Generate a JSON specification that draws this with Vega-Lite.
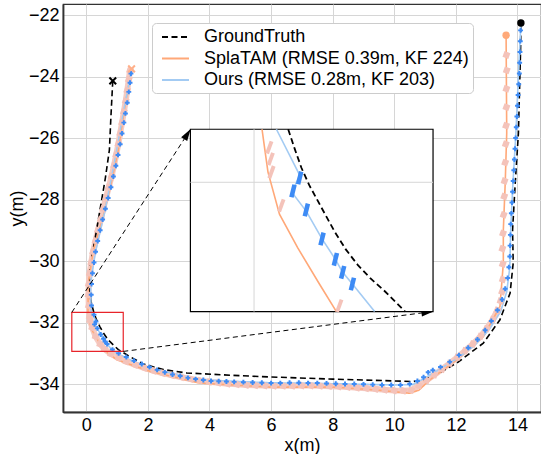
{
  "$schema": "https://vega.github.io/schema/vega-lite/v6.json",
  "width": 478,
  "height": 408,
  "autosize": {"type": "none"},
  "padding": {"left": 63, "top": 4, "right": 0, "bottom": 42},
  "config": {
    "font": "Liberation Sans",
    "view": {"stroke": "#333333", "strokeWidth": 1.2},
    "axis": {"grid": true, "gridColor": "#d6d6d6", "gridWidth": 1, "domainColor": "#333333", "domainWidth": 1.8, "tickSize": 0, "ticks": false, "labelFontSize": 18, "labelColor": "#000000", "titleFontSize": 18, "titleFontWeight": "normal", "titleColor": "#000000", "labelPadding": 4, "titlePadding": 2, "labelFont": "Liberation Sans", "titleFont": "Liberation Sans"},
    "legend": {"orient": "none", "legendX": 89, "legendY": 19, "labelFontSize": 18, "labelFont": "Liberation Sans", "labelColor": "#000000", "symbolType": "M-1.5,0L1.5,0", "symbolSize": 324, "symbolStrokeWidth": 2, "labelOffset": 18.5, "rowPadding": 2.5, "padding": 4, "symbolOffset": 9.5, "strokeColor": "#cccccc", "fillColor": "#ffffff", "cornerRadius": 4, "labelLimit": 400}
  },
  "datasets": {
    "traj": [
      {"s": "GT", "i": 0, "x": 0.86, "y": -24.14}, {"s": "GT", "i": 1, "x": 0.8, "y": -25.3}, {"s": "GT", "i": 2, "x": 0.75, "y": -26.39}, {"s": "GT", "i": 3, "x": 0.62, "y": -27.3}, {"s": "GT", "i": 4, "x": 0.5, "y": -28.01}, {"s": "GT", "i": 5, "x": 0.28, "y": -29.31}, {"s": "GT", "i": 6, "x": 0.12, "y": -30.18}, {"s": "GT", "i": 7, "x": 0.1, "y": -30.8}, {"s": "GT", "i": 8, "x": 0.15, "y": -31.3}, {"s": "GT", "i": 9, "x": 0.235, "y": -31.635}, {"s": "GT", "i": 10, "x": 0.326, "y": -31.9}, {"s": "GT", "i": 11, "x": 0.44, "y": -32.13}, {"s": "GT", "i": 12, "x": 0.555, "y": -32.34}, {"s": "GT", "i": 13, "x": 0.715, "y": -32.57}, {"s": "GT", "i": 14, "x": 0.9, "y": -32.75}, {"s": "GT", "i": 15, "x": 1.04, "y": -32.88}, {"s": "GT", "i": 16, "x": 1.4, "y": -33.1}, {"s": "GT", "i": 17, "x": 1.85, "y": -33.35}, {"s": "GT", "i": 18, "x": 2.5, "y": -33.53}, {"s": "GT", "i": 19, "x": 3.26, "y": -33.64}, {"s": "GT", "i": 20, "x": 4.77, "y": -33.72}, {"s": "GT", "i": 21, "x": 5.96, "y": -33.77}, {"s": "GT", "i": 22, "x": 8.0, "y": -33.84}, {"s": "GT", "i": 23, "x": 10.0, "y": -33.9}, {"s": "GT", "i": 24, "x": 10.6, "y": -33.92}, {"s": "GT", "i": 25, "x": 10.9, "y": -33.88}, {"s": "GT", "i": 26, "x": 11.27, "y": -33.74}, {"s": "GT", "i": 27, "x": 12.03, "y": -33.32}, {"s": "GT", "i": 28, "x": 12.89, "y": -32.67}, {"s": "GT", "i": 29, "x": 13.43, "y": -31.91}, {"s": "GT", "i": 30, "x": 13.76, "y": -31.04}, {"s": "GT", "i": 31, "x": 13.86, "y": -30.07}, {"s": "GT", "i": 32, "x": 13.84, "y": -28.99}, {"s": "GT", "i": 33, "x": 13.92, "y": -27.58}, {"s": "GT", "i": 34, "x": 14.03, "y": -25.84}, {"s": "GT", "i": 35, "x": 14.1, "y": -23.13}, {"s": "GT", "i": 36, "x": 14.11, "y": -22.26},
      {"s": "SplaTAM", "i": 0, "x": 1.47, "y": -23.75}, {"s": "SplaTAM", "i": 1, "x": 1.25, "y": -25.0}, {"s": "SplaTAM", "i": 2, "x": 1.04, "y": -26.39}, {"s": "SplaTAM", "i": 3, "x": 0.8, "y": -27.5}, {"s": "SplaTAM", "i": 4, "x": 0.55, "y": -28.55}, {"s": "SplaTAM", "i": 5, "x": 0.23, "y": -29.64}, {"s": "SplaTAM", "i": 6, "x": 0.065, "y": -30.72}, {"s": "SplaTAM", "i": 7, "x": 0.055, "y": -31.635}, {"s": "SplaTAM", "i": 8, "x": 0.096, "y": -31.93}, {"s": "SplaTAM", "i": 9, "x": 0.175, "y": -32.22}, {"s": "SplaTAM", "i": 10, "x": 0.3, "y": -32.45}, {"s": "SplaTAM", "i": 11, "x": 0.45, "y": -32.7}, {"s": "SplaTAM", "i": 12, "x": 0.567, "y": -32.89}, {"s": "SplaTAM", "i": 13, "x": 0.99, "y": -33.21}, {"s": "SplaTAM", "i": 14, "x": 2.07, "y": -33.59}, {"s": "SplaTAM", "i": 15, "x": 3.69, "y": -33.97}, {"s": "SplaTAM", "i": 16, "x": 5.96, "y": -34.1}, {"s": "SplaTAM", "i": 17, "x": 8.0, "y": -34.1}, {"s": "SplaTAM", "i": 18, "x": 9.5, "y": -34.2}, {"s": "SplaTAM", "i": 19, "x": 10.5, "y": -34.3}, {"s": "SplaTAM", "i": 20, "x": 10.8, "y": -34.2}, {"s": "SplaTAM", "i": 21, "x": 11.16, "y": -33.86}, {"s": "SplaTAM", "i": 22, "x": 12.03, "y": -33.21}, {"s": "SplaTAM", "i": 23, "x": 12.89, "y": -32.46}, {"s": "SplaTAM", "i": 24, "x": 13.43, "y": -31.48}, {"s": "SplaTAM", "i": 25, "x": 13.54, "y": -30.07}, {"s": "SplaTAM", "i": 26, "x": 13.54, "y": -28.99}, {"s": "SplaTAM", "i": 27, "x": 13.6, "y": -27.5}, {"s": "SplaTAM", "i": 28, "x": 13.65, "y": -25.84}, {"s": "SplaTAM", "i": 29, "x": 13.63, "y": -22.66},
      {"s": "Ours", "i": 0, "x": 1.47, "y": -23.78}, {"s": "Ours", "i": 1, "x": 1.2, "y": -25.19}, {"s": "Ours", "i": 2, "x": 0.95, "y": -26.6}, {"s": "Ours", "i": 3, "x": 0.6, "y": -28.4}, {"s": "Ours", "i": 4, "x": 0.3, "y": -29.7}, {"s": "Ours", "i": 5, "x": 0.14, "y": -30.7}, {"s": "Ours", "i": 6, "x": 0.154, "y": -31.635}, {"s": "Ours", "i": 7, "x": 0.314, "y": -31.95}, {"s": "Ours", "i": 8, "x": 0.261, "y": -32.07}, {"s": "Ours", "i": 9, "x": 0.36, "y": -32.2}, {"s": "Ours", "i": 10, "x": 0.468, "y": -32.39}, {"s": "Ours", "i": 11, "x": 0.56, "y": -32.53}, {"s": "Ours", "i": 12, "x": 0.61, "y": -32.62}, {"s": "Ours", "i": 13, "x": 0.677, "y": -32.7}, {"s": "Ours", "i": 14, "x": 0.83, "y": -32.89}, {"s": "Ours", "i": 15, "x": 0.99, "y": -33.0}, {"s": "Ours", "i": 16, "x": 1.5, "y": -33.25}, {"s": "Ours", "i": 17, "x": 2.07, "y": -33.48}, {"s": "Ours", "i": 18, "x": 3.69, "y": -33.86}, {"s": "Ours", "i": 19, "x": 5.96, "y": -33.96}, {"s": "Ours", "i": 20, "x": 8.0, "y": -33.99}, {"s": "Ours", "i": 21, "x": 10.0, "y": -34.03}, {"s": "Ours", "i": 22, "x": 10.6, "y": -34.02}, {"s": "Ours", "i": 23, "x": 11.0, "y": -33.8}, {"s": "Ours", "i": 24, "x": 11.5, "y": -33.5}, {"s": "Ours", "i": 25, "x": 12.03, "y": -33.18}, {"s": "Ours", "i": 26, "x": 12.6, "y": -32.75}, {"s": "Ours", "i": 27, "x": 13.1, "y": -32.2}, {"s": "Ours", "i": 28, "x": 13.45, "y": -31.65}, {"s": "Ours", "i": 29, "x": 13.65, "y": -31.0}, {"s": "Ours", "i": 30, "x": 13.75, "y": -30.2}, {"s": "Ours", "i": 31, "x": 13.78, "y": -28.99}, {"s": "Ours", "i": 32, "x": 13.85, "y": -27.5}, {"s": "Ours", "i": 33, "x": 13.95, "y": -25.8}, {"s": "Ours", "i": 34, "x": 14.05, "y": -23.5}, {"s": "Ours", "i": 35, "x": 14.11, "y": -22.3}
    ],
    "pinkkf": [
      {"i": 0, "x": 1.42, "y": -23.8}, {"i": 1, "x": 1.38, "y": -24.1}, {"i": 2, "x": 1.33, "y": -24.45}, {"i": 3, "x": 1.28, "y": -24.8}, {"i": 4, "x": 1.22, "y": -25.15}, {"i": 5, "x": 1.16, "y": -25.5}, {"i": 6, "x": 1.1, "y": -25.85}, {"i": 7, "x": 1.04, "y": -26.2}, {"i": 8, "x": 0.97, "y": -26.55}, {"i": 9, "x": 0.9, "y": -26.9}, {"i": 10, "x": 0.82, "y": -27.25}, {"i": 11, "x": 0.73, "y": -27.6}, {"i": 12, "x": 0.64, "y": -27.95}, {"i": 13, "x": 0.55, "y": -28.3}, {"i": 14, "x": 0.47, "y": -28.65}, {"i": 15, "x": 0.38, "y": -29.0}, {"i": 16, "x": 0.3, "y": -29.35}, {"i": 17, "x": 0.22, "y": -29.7}, {"i": 18, "x": 0.16, "y": -30.05}, {"i": 19, "x": 0.11, "y": -30.4}, {"i": 20, "x": 0.08, "y": -30.75}, {"i": 21, "x": 0.07, "y": -31.1}, {"i": 22, "x": 0.08, "y": -31.45}, {"i": 23, "x": 0.11, "y": -31.81}, {"i": 24, "x": 0.12, "y": -31.93}, {"i": 25, "x": 0.19, "y": -32.16}, {"i": 26, "x": 0.3, "y": -32.45}, {"i": 27, "x": 0.45, "y": -32.7}, {"i": 28, "x": 0.59, "y": -32.86}, {"i": 29, "x": 0.8, "y": -33.02}, {"i": 30, "x": 1.05, "y": -33.15}, {"i": 31, "x": 1.3, "y": -33.27}, {"i": 32, "x": 1.6, "y": -33.38}, {"i": 33, "x": 1.9, "y": -33.48}, {"i": 34, "x": 2.2, "y": -33.57}, {"i": 35, "x": 2.5, "y": -33.65}, {"i": 36, "x": 2.8, "y": -33.72}, {"i": 37, "x": 3.1, "y": -33.78}, {"i": 38, "x": 3.4, "y": -33.84}, {"i": 39, "x": 3.7, "y": -33.89}, {"i": 40, "x": 4.0, "y": -33.93}, {"i": 41, "x": 4.3, "y": -33.96}, {"i": 42, "x": 4.6, "y": -33.99}, {"i": 43, "x": 4.9, "y": -34.01}, {"i": 44, "x": 5.2, "y": -34.03}, {"i": 45, "x": 5.5, "y": -34.04}, {"i": 46, "x": 5.8, "y": -34.05}, {"i": 47, "x": 6.1, "y": -34.06}, {"i": 48, "x": 6.4, "y": -34.06}, {"i": 49, "x": 6.7, "y": -34.06}, {"i": 50, "x": 7.0, "y": -34.05}, {"i": 51, "x": 7.3, "y": -34.05}, {"i": 52, "x": 7.6, "y": -34.06}, {"i": 53, "x": 7.9, "y": -34.07}, {"i": 54, "x": 8.2, "y": -34.08}, {"i": 55, "x": 8.5, "y": -34.1}, {"i": 56, "x": 8.8, "y": -34.12}, {"i": 57, "x": 9.1, "y": -34.14}, {"i": 58, "x": 9.4, "y": -34.16}, {"i": 59, "x": 9.7, "y": -34.19}, {"i": 60, "x": 10.0, "y": -34.21}, {"i": 61, "x": 10.3, "y": -34.22}, {"i": 62, "x": 10.55, "y": -34.2}, {"i": 63, "x": 10.8, "y": -34.05}, {"i": 64, "x": 11.05, "y": -33.88}, {"i": 65, "x": 11.3, "y": -33.7}, {"i": 66, "x": 11.55, "y": -33.52}, {"i": 67, "x": 11.8, "y": -33.33}, {"i": 68, "x": 12.05, "y": -33.13}, {"i": 69, "x": 12.3, "y": -32.92}, {"i": 70, "x": 12.55, "y": -32.7}, {"i": 71, "x": 12.8, "y": -32.45}, {"i": 72, "x": 13.0, "y": -32.2}, {"i": 73, "x": 13.2, "y": -31.9}, {"i": 74, "x": 13.35, "y": -31.6}, {"i": 75, "x": 13.45, "y": -31.3}, {"i": 76, "x": 13.5, "y": -31.0}, {"i": 77, "x": 13.52, "y": -30.6}, {"i": 78, "x": 13.52, "y": -30.1}, {"i": 79, "x": 13.51, "y": -29.6}, {"i": 80, "x": 13.53, "y": -29.1}, {"i": 81, "x": 13.55, "y": -28.5}, {"i": 82, "x": 13.57, "y": -27.9}, {"i": 83, "x": 13.58, "y": -27.4}, {"i": 84, "x": 13.6, "y": -26.8}, {"i": 85, "x": 13.62, "y": -26.2}, {"i": 86, "x": 13.63, "y": -25.6}, {"i": 87, "x": 13.64, "y": -25.0}, {"i": 88, "x": 13.64, "y": -24.4}, {"i": 89, "x": 13.65, "y": -23.8}, {"i": 90, "x": 13.64, "y": -23.3}
    ],
    "bluekf": [
      {"x": 1.45, "y": -23.9}, {"x": 1.42, "y": -24.2}, {"x": 1.38, "y": -24.5}, {"x": 1.33, "y": -24.85}, {"x": 1.27, "y": -25.2}, {"x": 1.22, "y": -25.5}, {"x": 1.16, "y": -25.85}, {"x": 1.1, "y": -26.2}, {"x": 1.03, "y": -26.55}, {"x": 0.96, "y": -26.9}, {"x": 0.88, "y": -27.25}, {"x": 0.8, "y": -27.6}, {"x": 0.71, "y": -27.95}, {"x": 0.62, "y": -28.3}, {"x": 0.53, "y": -28.65}, {"x": 0.45, "y": -29.0}, {"x": 0.37, "y": -29.35}, {"x": 0.3, "y": -29.7}, {"x": 0.25, "y": -30.05}, {"x": 0.2, "y": -30.4}, {"x": 0.17, "y": -30.75}, {"x": 0.16, "y": -31.1}, {"x": 0.17, "y": -31.45}, {"x": 0.25, "y": -31.75}, {"x": 0.314, "y": -31.97}, {"x": 0.268, "y": -32.06}, {"x": 0.36, "y": -32.19}, {"x": 0.468, "y": -32.39}, {"x": 0.56, "y": -32.53}, {"x": 0.61, "y": -32.62}, {"x": 0.677, "y": -32.7}, {"x": 0.85, "y": -32.88}, {"x": 1.05, "y": -33.0}, {"x": 1.3, "y": -33.12}, {"x": 1.55, "y": -33.24}, {"x": 1.8, "y": -33.35}, {"x": 2.05, "y": -33.45}, {"x": 2.3, "y": -33.54}, {"x": 2.55, "y": -33.62}, {"x": 2.8, "y": -33.69}, {"x": 3.05, "y": -33.74}, {"x": 3.3, "y": -33.8}, {"x": 3.55, "y": -33.84}, {"x": 3.8, "y": -33.87}, {"x": 4.05, "y": -33.9}, {"x": 4.3, "y": -33.91}, {"x": 4.55, "y": -33.92}, {"x": 4.8, "y": -33.93}, {"x": 5.1, "y": -33.94}, {"x": 5.4, "y": -33.95}, {"x": 5.7, "y": -33.96}, {"x": 6.0, "y": -33.97}, {"x": 6.3, "y": -33.97}, {"x": 6.6, "y": -33.96}, {"x": 6.9, "y": -33.96}, {"x": 7.2, "y": -33.97}, {"x": 7.5, "y": -33.97}, {"x": 7.8, "y": -33.98}, {"x": 8.1, "y": -33.99}, {"x": 8.4, "y": -34.0}, {"x": 8.7, "y": -34.0}, {"x": 9.0, "y": -34.01}, {"x": 9.3, "y": -34.02}, {"x": 9.6, "y": -34.03}, {"x": 9.9, "y": -34.03}, {"x": 10.2, "y": -34.03}, {"x": 10.5, "y": -34.0}, {"x": 10.75, "y": -33.9}, {"x": 10.95, "y": -33.78}, {"x": 11.1, "y": -33.62}, {"x": 11.25, "y": -33.55}, {"x": 11.5, "y": -33.45}, {"x": 11.8, "y": -33.28}, {"x": 12.1, "y": -33.06}, {"x": 12.4, "y": -32.82}, {"x": 12.7, "y": -32.55}, {"x": 12.95, "y": -32.25}, {"x": 13.15, "y": -31.95}, {"x": 13.35, "y": -31.6}, {"x": 13.5, "y": -31.25}, {"x": 13.6, "y": -30.9}, {"x": 13.68, "y": -30.55}, {"x": 13.72, "y": -30.2}, {"x": 13.75, "y": -29.85}, {"x": 13.76, "y": -29.5}, {"x": 13.77, "y": -29.15}, {"x": 13.78, "y": -28.8}, {"x": 13.8, "y": -28.45}, {"x": 13.82, "y": -28.1}, {"x": 13.84, "y": -27.75}, {"x": 13.86, "y": -27.4}, {"x": 13.88, "y": -27.05}, {"x": 13.9, "y": -26.7}, {"x": 13.92, "y": -26.35}, {"x": 13.94, "y": -26.0}, {"x": 13.96, "y": -25.65}, {"x": 13.98, "y": -25.3}, {"x": 14.0, "y": -24.95}, {"x": 14.02, "y": -24.6}, {"x": 14.04, "y": -24.25}, {"x": 14.06, "y": -23.9}, {"x": 14.07, "y": -23.55}, {"x": 14.08, "y": -23.2}, {"x": 14.09, "y": -22.85}, {"x": 14.1, "y": -22.5}
    ],
    "starts": [
      {"s": "GT", "x": 0.86, "y": -24.14},
      {"s": "SplaTAM", "x": 1.47, "y": -23.75}
    ],
    "ends": [
      {"s": "GT", "x": 14.11, "y": -22.26},
      {"s": "SplaTAM", "x": 13.63, "y": -22.66}
    ],
    "zoombox": [{"x": -0.47, "x2": 1.2, "y": -32.94, "y2": -31.67}],
    "arrows": [
      {"a": 1, "i": 0, "x": -0.47, "y": -31.67}, {"a": 1, "i": 1, "x": 3.39, "y": -25.71},
      {"a": 2, "i": 0, "x": 1.2, "y": -32.94}, {"a": 2, "i": 1, "x": 11.27, "y": -31.64}
    ],
    "insetbox": [{"x": -0.438, "x2": 1.232, "y": -32.89, "y2": -31.635}],
    "insetgrid": [
      {"x": 0, "x2": 0, "y": -32.89, "y2": -31.635},
      {"x": -0.438, "x2": 1.232, "y": -32, "y2": -32}
    ],
    "insettraj": [
      {"s": "GT", "i": 0, "x": 0.235, "y": -31.635}, {"s": "GT", "i": 1, "x": 0.28, "y": -31.77}, {"s": "GT", "i": 2, "x": 0.326, "y": -31.9}, {"s": "GT", "i": 3, "x": 0.38, "y": -32.02}, {"s": "GT", "i": 4, "x": 0.44, "y": -32.13}, {"s": "GT", "i": 5, "x": 0.5, "y": -32.24}, {"s": "GT", "i": 6, "x": 0.555, "y": -32.34}, {"s": "GT", "i": 7, "x": 0.63, "y": -32.46}, {"s": "GT", "i": 8, "x": 0.715, "y": -32.57}, {"s": "GT", "i": 9, "x": 0.8, "y": -32.66}, {"s": "GT", "i": 10, "x": 0.9, "y": -32.75}, {"s": "GT", "i": 11, "x": 0.97, "y": -32.82}, {"s": "GT", "i": 12, "x": 1.04, "y": -32.89},
      {"s": "SplaTAM", "i": 0, "x": 0.055, "y": -31.635}, {"s": "SplaTAM", "i": 1, "x": 0.075, "y": -31.78}, {"s": "SplaTAM", "i": 2, "x": 0.096, "y": -31.93}, {"s": "SplaTAM", "i": 3, "x": 0.175, "y": -32.22}, {"s": "SplaTAM", "i": 4, "x": 0.3, "y": -32.45}, {"s": "SplaTAM", "i": 5, "x": 0.45, "y": -32.7}, {"s": "SplaTAM", "i": 6, "x": 0.567, "y": -32.89},
      {"s": "Ours", "i": 0, "x": 0.154, "y": -31.635}, {"s": "Ours", "i": 1, "x": 0.314, "y": -31.95}, {"s": "Ours", "i": 2, "x": 0.261, "y": -32.07}, {"s": "Ours", "i": 3, "x": 0.36, "y": -32.2}, {"s": "Ours", "i": 4, "x": 0.468, "y": -32.39}, {"s": "Ours", "i": 5, "x": 0.56, "y": -32.53}, {"s": "Ours", "i": 6, "x": 0.61, "y": -32.62}, {"s": "Ours", "i": 7, "x": 0.677, "y": -32.7}, {"s": "Ours", "i": 8, "x": 0.83, "y": -32.89}
    ],
    "insetpink": [
      {"x": 0.105, "y": -31.76}, {"x": 0.115, "y": -31.84}, {"x": 0.12, "y": -31.93}, {"x": 0.188, "y": -32.16}, {"x": 0.587, "y": -32.85}
    ],
    "insetblue": [
      {"x": 0.314, "y": -31.97}, {"x": 0.268, "y": -32.06}, {"x": 0.36, "y": -32.19}, {"x": 0.468, "y": -32.39}, {"x": 0.56, "y": -32.53}, {"x": 0.61, "y": -32.62}, {"x": 0.677, "y": -32.7}
    ]
  },
  "layer": [
    {
      "layer": [
        {
          "data": {"name": "pinkkf"},
          "transform": [{"filter": "datum.i <= 74"}],
          "mark": {"type": "line", "color": "#f6cbc2", "strokeWidth": 6, "strokeCap": "round"},
          "encoding": {
            "x": {"field": "x", "type": "quantitative", "scale": {"domain": [-0.756, 14.763], "nice": false, "zero": false}, "axis": {"values": [0, 2, 4, 6, 8, 10, 12, 14], "title": "x(m)", "labelOverlap": false}},
            "y": {"field": "y", "type": "quantitative", "scale": {"domain": [-34.91, -21.642], "nice": false, "zero": false}, "axis": {"values": [-34, -32, -30, -28, -26, -24, -22], "title": "y(m)", "labelOverlap": false}},
            "order": {"field": "i", "type": "quantitative"}
          }
        },
        {
          "data": {"name": "traj"},
          "mark": {"type": "line", "strokeWidth": 1.6},
          "encoding": {
            "x": {"field": "x", "type": "quantitative", "scale": {"domain": [-0.756, 14.763], "nice": false, "zero": false}},
            "y": {"field": "y", "type": "quantitative", "scale": {"domain": [-34.91, -21.642], "nice": false, "zero": false}},
            "order": {"field": "i", "type": "quantitative"},
            "color": {"field": "s", "type": "nominal", "scale": {"domain": ["GT", "SplaTAM", "Ours"], "range": ["#000000", "#ffa878", "#a3cbf3"]}, "legend": {"title": null, "labelExpr": "datum.label == 'GT' ? 'GroundTruth' : datum.label == 'SplaTAM' ? 'SplaTAM (RMSE 0.39m, KF 224)' : 'Ours (RMSE 0.28m, KF 203)'"}},
            "strokeDash": {"field": "s", "type": "nominal", "scale": {"domain": ["GT", "SplaTAM", "Ours"], "range": [[6, 3.5], [1, 0], [1, 0]]}, "legend": {"title": null, "labelExpr": "datum.label == 'GT' ? 'GroundTruth' : datum.label == 'SplaTAM' ? 'SplaTAM (RMSE 0.39m, KF 224)' : 'Ours (RMSE 0.28m, KF 203)'"}}
          }
        },
        {
          "data": {"name": "pinkkf"},
          "mark": {"type": "point", "shape": "square", "filled": true, "size": 38, "color": "#f4c3ba", "opacity": 1, "angle": 20},
          "encoding": {
            "x": {"field": "x", "type": "quantitative", "scale": {"domain": [-0.756, 14.763], "nice": false, "zero": false}},
            "y": {"field": "y", "type": "quantitative", "scale": {"domain": [-34.91, -21.642], "nice": false, "zero": false}}
          }
        },
        {
          "data": {"name": "bluekf"},
          "mark": {"type": "point", "shape": "cross", "filled": true, "size": 24, "color": "#3d8bf5", "opacity": 1},
          "encoding": {
            "x": {"field": "x", "type": "quantitative", "scale": {"domain": [-0.756, 14.763], "nice": false, "zero": false}},
            "y": {"field": "y", "type": "quantitative", "scale": {"domain": [-34.91, -21.642], "nice": false, "zero": false}}
          }
        },
        {
          "data": {"name": "starts"},
          "mark": {"type": "point", "shape": "M-1,-1L1,1M-1,1L1,-1", "filled": false, "size": 45, "strokeWidth": 2, "opacity": 1},
          "encoding": {
            "x": {"field": "x", "type": "quantitative", "scale": {"domain": [-0.756, 14.763], "nice": false, "zero": false}},
            "y": {"field": "y", "type": "quantitative", "scale": {"domain": [-34.91, -21.642], "nice": false, "zero": false}},
            "stroke": {"field": "s", "type": "nominal", "scale": {"domain": ["GT", "SplaTAM"], "range": ["#000000", "#ffb08a"]}, "legend": null}
          }
        },
        {
          "data": {"name": "ends"},
          "mark": {"type": "point", "shape": "circle", "filled": true, "size": 55, "opacity": 1},
          "encoding": {
            "x": {"field": "x", "type": "quantitative", "scale": {"domain": [-0.756, 14.763], "nice": false, "zero": false}},
            "y": {"field": "y", "type": "quantitative", "scale": {"domain": [-34.91, -21.642], "nice": false, "zero": false}},
            "fill": {"field": "s", "type": "nominal", "scale": {"domain": ["GT", "SplaTAM"], "range": ["#000000", "#ffaa7a"]}, "legend": null}
          }
        },
        {
          "data": {"name": "zoombox"},
          "mark": {"type": "rect", "fillOpacity": 0, "stroke": "#e8242a", "strokeWidth": 1.2},
          "encoding": {
            "x": {"field": "x", "type": "quantitative", "scale": {"domain": [-0.756, 14.763], "nice": false, "zero": false}},
            "x2": {"field": "x2"},
            "y": {"field": "y", "type": "quantitative", "scale": {"domain": [-34.91, -21.642], "nice": false, "zero": false}},
            "y2": {"field": "y2"}
          }
        },
        {
          "data": {"name": "arrows"},
          "mark": {"type": "line", "color": "#000000", "strokeWidth": 1, "strokeDash": [5, 3.5]},
          "encoding": {
            "x": {"field": "x", "type": "quantitative", "scale": {"domain": [-0.756, 14.763], "nice": false, "zero": false}},
            "y": {"field": "y", "type": "quantitative", "scale": {"domain": [-34.91, -21.642], "nice": false, "zero": false}},
            "detail": {"field": "a", "type": "nominal"},
            "order": {"field": "i", "type": "quantitative"}
          }
        },
        {
          "data": {"name": "arrows"},
          "transform": [{"filter": "datum.a == 1 && datum.i == 1"}],
          "mark": {"type": "point", "shape": "M0,0L-0.6,2L0.6,2Z", "filled": true, "size": 144, "color": "#000000", "opacity": 1, "angle": 33},
          "encoding": {
            "x": {"field": "x", "type": "quantitative", "scale": {"domain": [-0.756, 14.763], "nice": false, "zero": false}},
            "y": {"field": "y", "type": "quantitative", "scale": {"domain": [-34.91, -21.642], "nice": false, "zero": false}}
          }
        },
        {
          "data": {"name": "arrows"},
          "transform": [{"filter": "datum.a == 2 && datum.i == 1"}],
          "mark": {"type": "point", "shape": "M0,0L-0.6,2L0.6,2Z", "filled": true, "size": 144, "color": "#000000", "opacity": 1, "angle": 82.6},
          "encoding": {
            "x": {"field": "x", "type": "quantitative", "scale": {"domain": [-0.756, 14.763], "nice": false, "zero": false}},
            "y": {"field": "y", "type": "quantitative", "scale": {"domain": [-34.91, -21.642], "nice": false, "zero": false}}
          }
        }
      ]
    },
    {
      "layer": [
        {
          "data": {"name": "insetbox"},
          "mark": {"type": "rect", "fill": "#ffffff", "stroke": "#000000", "strokeWidth": 1.2},
          "encoding": {
            "x": {"field": "x", "type": "quantitative", "scale": {"domain": [-1.3148, 1.975], "nice": false, "zero": false}, "axis": null},
            "x2": {"field": "x2"},
            "y": {"field": "y", "type": "quantitative", "scale": {"domain": [-33.581, -30.773], "nice": false, "zero": false}, "axis": null},
            "y2": {"field": "y2"}
          }
        },
        {
          "data": {"name": "insetgrid"},
          "mark": {"type": "rule", "color": "#d6d6d6", "strokeWidth": 1},
          "encoding": {
            "x": {"field": "x", "type": "quantitative", "scale": {"domain": [-1.3148, 1.975], "nice": false, "zero": false}, "axis": null},
            "x2": {"field": "x2"},
            "y": {"field": "y", "type": "quantitative", "scale": {"domain": [-33.581, -30.773], "nice": false, "zero": false}, "axis": null},
            "y2": {"field": "y2"}
          }
        },
        {
          "data": {"name": "insettraj"},
          "transform": [{"filter": "datum.s != 'GT'"}],
          "mark": {"type": "line", "strokeWidth": 1.6},
          "encoding": {
            "x": {"field": "x", "type": "quantitative", "scale": {"domain": [-1.3148, 1.975], "nice": false, "zero": false}, "axis": null},
            "y": {"field": "y", "type": "quantitative", "scale": {"domain": [-33.581, -30.773], "nice": false, "zero": false}, "axis": null},
            "order": {"field": "i", "type": "quantitative"},
            "detail": {"field": "s", "type": "nominal"},
            "stroke": {"field": "s", "type": "nominal", "scale": {"domain": ["SplaTAM", "Ours"], "range": ["#ffa878", "#a3cbf3"]}, "legend": null}
          }
        },
        {
          "data": {"name": "insetpink"},
          "mark": {"type": "point", "shape": "M-0.3,-1L0.3,-1L0.3,1L-0.3,1Z", "filled": true, "size": 169, "color": "#f4c3ba", "opacity": 1, "angle": 20},
          "encoding": {
            "x": {"field": "x", "type": "quantitative", "scale": {"domain": [-1.3148, 1.975], "nice": false, "zero": false}, "axis": null},
            "y": {"field": "y", "type": "quantitative", "scale": {"domain": [-33.581, -30.773], "nice": false, "zero": false}, "axis": null}
          }
        },
        {
          "data": {"name": "insetblue"},
          "mark": {"type": "point", "shape": "M-0.35,-1L0.35,-1L0.35,1L-0.35,1Z", "filled": true, "size": 169, "color": "#3d8bf5", "opacity": 1, "angle": 14},
          "encoding": {
            "x": {"field": "x", "type": "quantitative", "scale": {"domain": [-1.3148, 1.975], "nice": false, "zero": false}, "axis": null},
            "y": {"field": "y", "type": "quantitative", "scale": {"domain": [-33.581, -30.773], "nice": false, "zero": false}, "axis": null}
          }
        },
        {
          "data": {"name": "insettraj"},
          "transform": [{"filter": "datum.s == 'GT'"}],
          "mark": {"type": "line", "color": "#000000", "strokeWidth": 1.8, "strokeDash": [6, 3.5]},
          "encoding": {
            "x": {"field": "x", "type": "quantitative", "scale": {"domain": [-1.3148, 1.975], "nice": false, "zero": false}, "axis": null},
            "y": {"field": "y", "type": "quantitative", "scale": {"domain": [-33.581, -30.773], "nice": false, "zero": false}, "axis": null},
            "order": {"field": "i", "type": "quantitative"}
          }
        }
      ]
    }
  ],
  "resolve": {"scale": {"x": "independent", "y": "independent", "stroke": "independent"}}
}
